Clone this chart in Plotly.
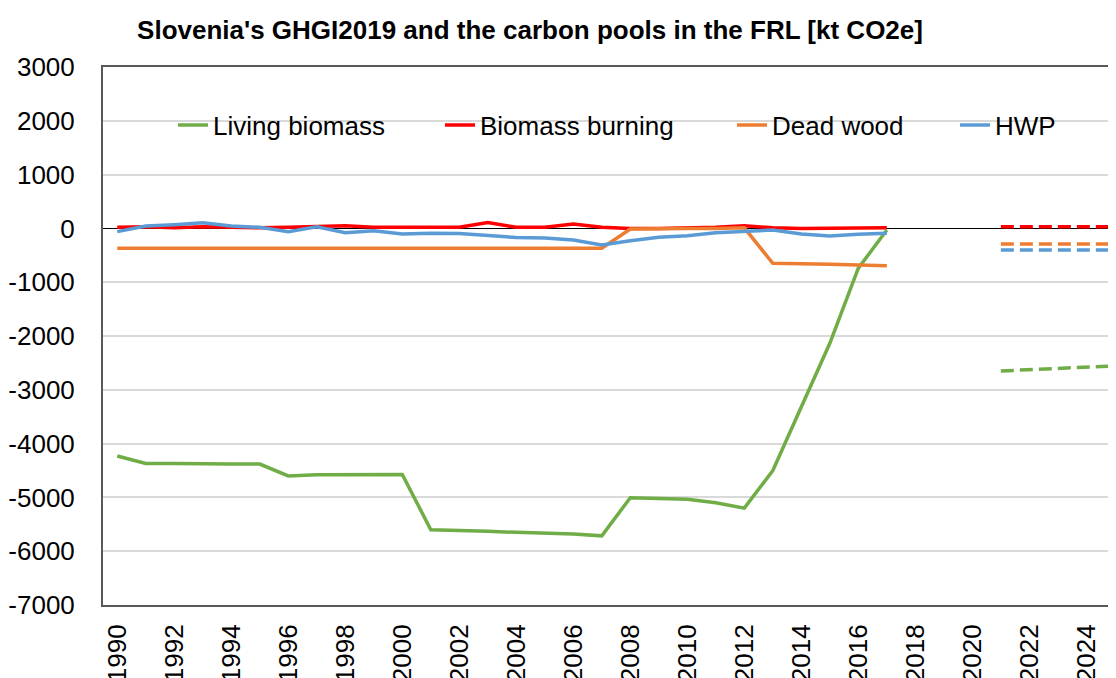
import plotly.graph_objects as go

# years of the inventory and of the FRL projection
years_ghgi = list(range(1990, 2018))
years_frl = [2021, 2022, 2023, 2024, 2025]

# GHGI2019 series [kt CO2e]
living_biomass = [-4230, -4370, -4370, -4380, -4380, -4380, -4600, -4580, -4580, -4580,
                  -4575, -5600, -5610, -5630, -5650, -5660, -5680, -5715, -5005, -5020,
                  -5035, -5100, -5200, -4500, -3300, -2135, -740, -30]
biomass_burning = [20, 30, 10, 30, 20, 10, 20, 30, 50, 20,
                   20, 20, 20, 110, 20, 20, 80, 20, 0, 0,
                   10, 20, 50, 10, 0, 0, 10, 10]
dead_wood = [-370, -370, -370, -370, -370, -370, -370, -370, -370, -370,
             -370, -370, -370, -370, -370, -370, -370, -370, -10, 0,
             0, 0, 10, -650, -650, -665, -680, -693]
hwp = [-60, 45, 70, 105, 45, 20, -60, 30, -80, -45,
       -105, -90, -95, -140, -170, -180, -215, -310, -228, -165,
       -135, -80, -60, -30, -105, -140, -110, -90]

# FRL projections (dashed)
living_biomass_frl = [-2650, -2625, -2600, -2580, -2555]
biomass_burning_frl = [30, 30, 30, 30, 30]
dead_wood_frl = [-290, -290, -290, -290, -290]
hwp_frl = [-400, -400, -400, -400, -400]

# y tick labels, written with a plain hyphen as in the original
y_ticks = [3000, 2000, 1000, 0, -1000, -2000, -3000, -4000, -5000, -6000, -7000]
y_tick_labels = ["3000", "2000", "1000", "0", "-1000", "-2000", "-3000",
                 "-4000", "-5000", "-6000", "-7000"]

names = ["Living biomass", "Biomass burning", "Dead wood", "HWP"]
colors = ["#70AD47", "#FF0000", "#ED7D31", "#5B9BD5"]
hist = [living_biomass, biomass_burning, dead_wood, hwp]
proj = [living_biomass_frl, biomass_burning_frl, dead_wood_frl, hwp_frl]
legend_ids = ["legend", "legend2", "legend3", "legend4"]
legend_x = [173, 440, 732, 955]  # page pixels

FONT = "Liberation Sans, Arial, sans-serif"
OFF = 8  # default body margin of the html page
W, H = 1116 - OFF, 678 - OFF

fig = go.Figure()
for name, color, h, p, lid in zip(names, colors, hist, proj, legend_ids):
    fig.add_trace(go.Scatter(x=years_ghgi, y=h, mode="lines", name=name,
                             line=dict(color=color, width=3.5), legend=lid))
    fig.add_trace(go.Scatter(x=years_frl, y=p, mode="lines", name=name, showlegend=False,
                             line=dict(color=color, width=3.5, dash="13px,6px")))

legends = {}
for lid, lx in zip(legend_ids, legend_x):
    legends[lid] = dict(
        xref="container", yref="container",
        x=(lx - OFF) / W, y=1 - (125 - OFF) / H, xanchor="left", yanchor="middle",
        orientation="h", bgcolor="rgba(0,0,0,0)",
        font=dict(family=FONT, size=26, color="#000"),
    )

fig.update_layout(
    width=W, height=H,
    margin=dict(l=103 - OFF, r=0, t=67 - OFF, b=73, autoexpand=False),
    paper_bgcolor="white", plot_bgcolor="white",
    title=dict(text="<b>Slovenia's GHGI2019 and the carbon pools in the FRL [kt CO2e]</b>",
               x=(530 - OFF) / W, xanchor="center", y=1 - (30 - OFF) / H, yanchor="middle",
               font=dict(family=FONT, size=26, color="#000")),
    **legends,
)

# white band behind the legend hides the 2000 gridline like the original
fig.add_shape(type="rect", xref="paper", yref="y", layer="between",
              x0=12 / 1013, x1=1002 / 1013, y0=1720, y1=2280,
              fillcolor="white", line_width=0)

fig.update_xaxes(
    range=[1989.5, 2025.04], tickmode="linear", tick0=1990, dtick=2,
    tickangle=-90, showgrid=False, zeroline=False, automargin=False,
    showline=True, mirror=True, linecolor="#595959", linewidth=2,
    ticklabelstandoff=7,
    tickfont=dict(family=FONT, size=26, color="#000"),
)
fig.update_yaxes(
    range=[-7000, 3000], tickmode="array", tickvals=y_ticks, ticktext=y_tick_labels,
    showgrid=True, gridcolor="#D9D9D9", gridwidth=1.5, automargin=False,
    zeroline=True, zerolinecolor="#000", zerolinewidth=1,
    showline=True, linecolor="#595959", linewidth=2,
    ticklabelstandoff=21,
    tickfont=dict(family=FONT, size=26, color="#000"),
)

fig.write_html("out.html")
